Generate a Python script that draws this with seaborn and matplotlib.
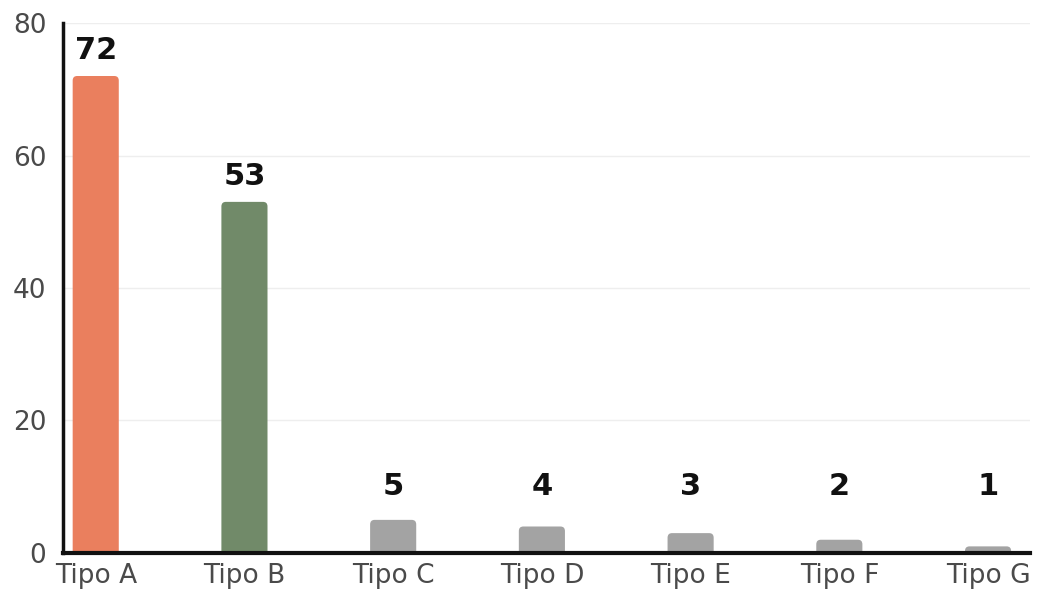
import matplotlib
matplotlib.use("Agg")
import matplotlib.pyplot as plt
from matplotlib.patches import FancyBboxPatch
import seaborn as sns
import pandas as pd

categories = ["Tipo A", "Tipo B", "Tipo C", "Tipo D", "Tipo E", "Tipo F", "Tipo G"]
values = [72, 53, 5, 4, 3, 2, 1]
colors = ["#EA7F5E", "#718A69", "#A3A3A3", "#A3A3A3", "#A3A3A3", "#A3A3A3", "#A3A3A3"]
y_ticks = [0, 20, 40, 60, 80]

sns.set_theme(style="white")
plt.rcParams["font.family"] = ["DejaVu Sans"]

df = pd.DataFrame({"tipo": categories, "n": values})

fig = plt.figure(figsize=(10.38, 5.99), dpi=100)
ax = fig.add_axes([0.0607, 0.0768, 0.9313, 0.8848])

sns.barplot(data=df, x="tipo", y="n", hue="tipo", palette=colors,
            saturation=1, legend=False, width=0.31, ax=ax, zorder=3)

# swap the square bars for ones with softly rounded tops
for patch in list(ax.patches):
    x0, w = patch.get_x(), patch.get_width()
    h = patch.get_height()
    fc = patch.get_facecolor()
    patch.set_visible(False)
    pad = 1.0
    rounded = FancyBboxPatch((x0, -pad), w, h + pad,
                             boxstyle="round,pad=0,rounding_size=0.03",
                             mutation_aspect=23, facecolor=fc,
                             edgecolor="none", zorder=3)
    ax.add_patch(rounded)

ax.set_xlim(-0.22, 6.28)
ax.set_ylim(0, 80)
ax.set_yticks(y_ticks)
ax.set_xlabel("")
ax.set_ylabel("")

ax.grid(axis="y", color="#EEEEEE", linewidth=1.0, zorder=0)
ax.grid(axis="x", visible=False)

for side in ["top", "right"]:
    ax.spines[side].set_visible(False)
ax.spines["left"].set_color("#111111")
ax.spines["left"].set_linewidth(2.5)
ax.spines["bottom"].set_color("#111111")
ax.spines["bottom"].set_linewidth(3)
ax.spines["left"].set_zorder(5)
ax.spines["bottom"].set_zorder(5)

ax.tick_params(axis="y", length=0, pad=12, labelsize=19, labelcolor="#4A4A4A")
ax.tick_params(axis="x", length=0, pad=7, labelsize=19, labelcolor="#4A4A4A")

for i, v in enumerate(values):
    ax.text(i, max(v, 6.3) + 1.6, str(v), ha="center", va="bottom",
            fontsize=22, fontweight="bold", color="#111111", zorder=6)

fig.savefig("out.png", dpi=100, facecolor="white")
